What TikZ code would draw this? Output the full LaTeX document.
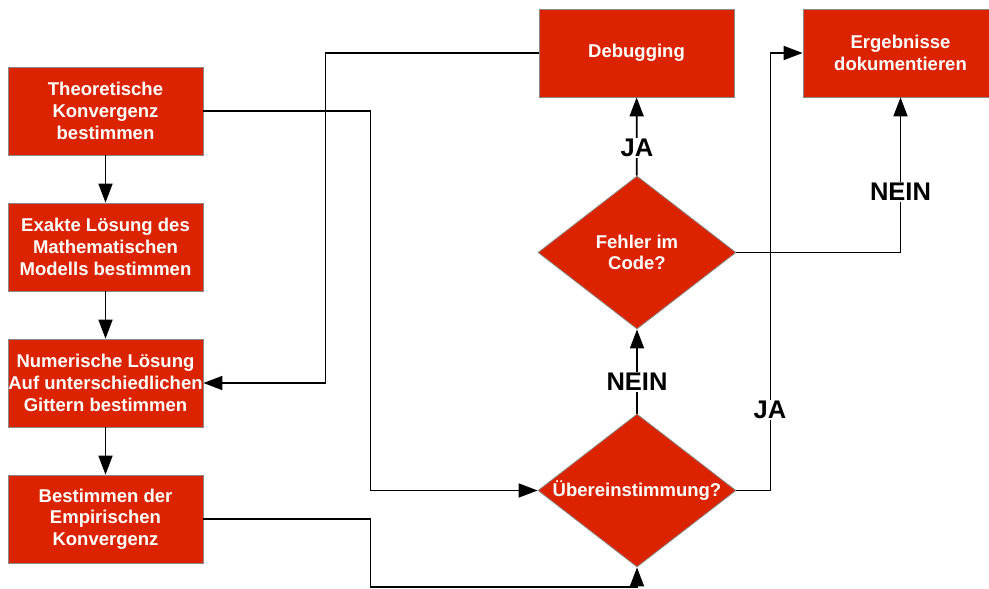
\documentclass[tikz,border=0pt]{standalone}
\usepackage{fontspec}
\setmainfont{Liberation Sans}
\usetikzlibrary{shapes.geometric,arrows.meta}
\definecolor{boxred}{HTML}{DC2300}
\definecolor{edgegray}{HTML}{8A8A8A}

\begin{document}
\begin{tikzpicture}[x=1pt,y=-1pt,
  stepbox/.style={rectangle,fill=boxred,draw=edgegray,line width=0.8pt,
    minimum width=195pt,minimum height=88pt,inner sep=0pt,text=white,
    font=\fontsize{18.5}{21.7}\selectfont\bfseries,align=center},
  decision/.style={diamond,fill=boxred,draw=edgegray,line width=0.8pt,
    minimum width=198pt,minimum height=153pt,inner sep=0pt},
  dtext/.style={text=white,font=\fontsize{18.5}{21.7}\selectfont\bfseries,align=center},
  flow/.style={line width=1.7pt,-{Triangle[length=19pt,width=14pt]}},
  tag/.style={fill=white,font=\fontsize{25.5}{30}\selectfont\bfseries,inner sep=1pt}]

\useasboundingbox (0,0) rectangle (989,589);

% left column
\node[stepbox] (t) at (105.5,111) {Theoretische\\Konvergenz\\bestimmen};
\node[stepbox] (e) at (105.5,247) {Exakte Lösung des\\Mathematischen\\Modells bestimmen};
\node[stepbox] (n) at (105.5,383) {Numerische Lösung\\Auf unterschiedlichen\\Gittern bestimmen};
\node[stepbox] (b) at (105.5,519) {Bestimmen der\\Empirischen\\Konvergenz};

% right part
\node[stepbox] (d) at (636.5,53) {Debugging};
\node[stepbox] (r) at (900.5,53) {Ergebnisse\\dokumentieren};
\node[decision] (f) at (637,252.5) {};
\node[dtext] at (f) {Fehler im\\Code?};
\node[decision] (u) at (637,490.5) {};
\node[dtext] at (u) {Übereinstimmung?};

% connectors
\draw[flow] (t) -- (e);
\draw[flow] (e) -- (n);
\draw[flow] (n) -- (b);
\draw[flow] (t.east) -- ++(167,0) |- (u.west);
\draw[flow] (b.east) -- ++(167,0) -- ++(0,68) -| (u.south);
\draw[flow] (u) -- (f);
\draw[flow] (f) -- (d);
\draw[flow] (d.west) -- ++(-213,0) |- (n.east);
\draw[flow] (f.east) -| (r.south);
\draw[flow] (u.east) -- ++(34,0) |- (r.west);

% branch labels
\node[tag] (ja1) at (637,148) {JA};
\node[tag] (nein1) at (637,382) {NEIN};
\node[tag] (nein2) at (900.5,192) {NEIN};
\node[tag] (ja2) at (770,410) {JA};
\end{tikzpicture}
\end{document}
